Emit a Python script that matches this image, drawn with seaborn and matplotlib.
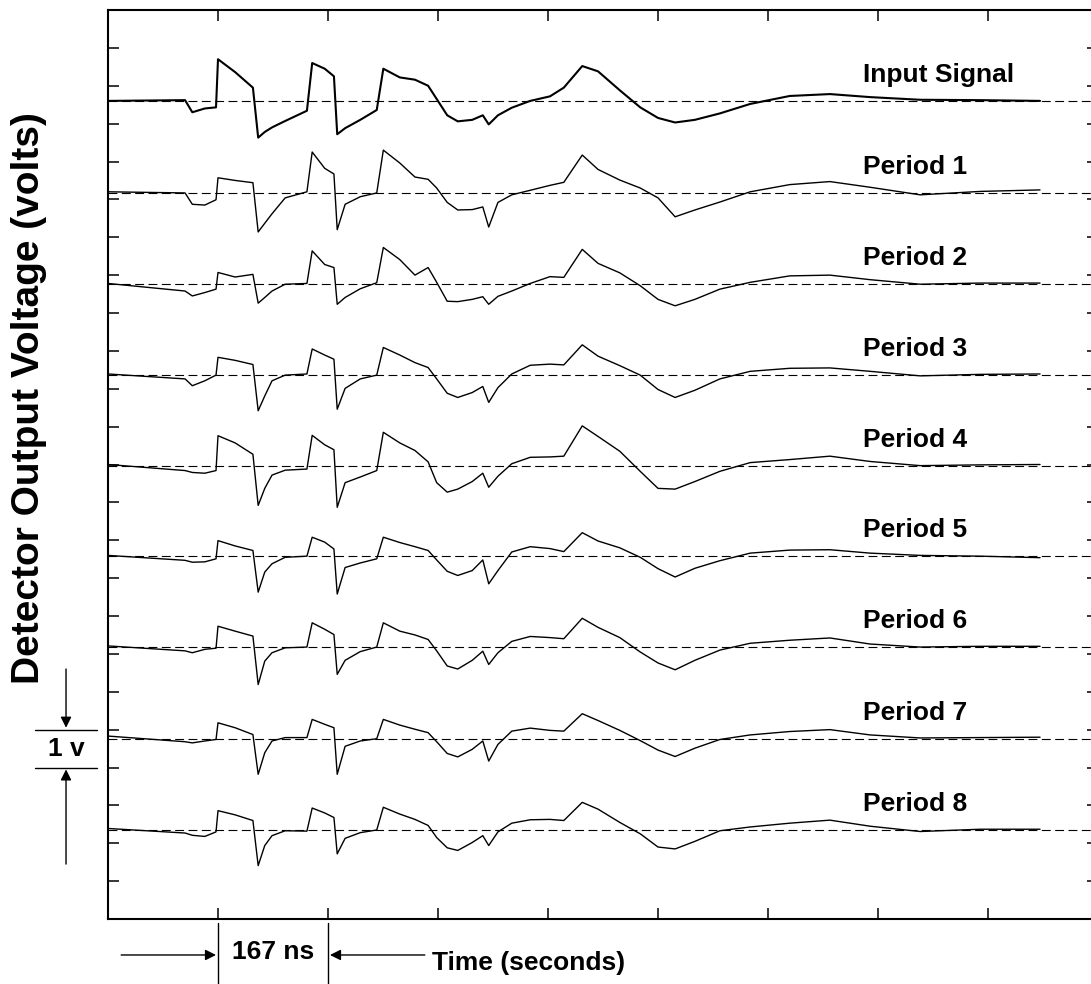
"""Detector output traces for the input signal and eight periods."""

import matplotlib

matplotlib.use("Agg")

import matplotlib.pyplot as plt
import matplotlib.transforms as mtransforms
import numpy as np
import pandas as pd
import seaborn as sns

# sample times in ns (shared by every trace)
time_ns = [0, 117, 128, 147, 164, 167, 193, 220, 228, 238, 249, 269, 302, 310,
           329, 343, 348, 360, 383, 408, 418, 443, 466, 486, 499, 515, 531, 553,
           569, 578, 592, 613, 641, 671, 692, 720, 744, 777, 808, 835, 861, 891,
           929, 975, 1035, 1096, 1157, 1233, 1324, 1415]

# voltage relative to each trace's baseline (V)
input_signal = [0, 0.02, -0.3, -0.2, -0.17, 1.1, 0.76, 0.35, -0.97, -0.82, -0.7,
                -0.53, -0.26, 1.0, 0.85, 0.65, -0.88, -0.72, -0.5, -0.24, 0.85,
                0.62, 0.56, 0.4, 0.05, -0.38, -0.54, -0.5, -0.38, -0.62, -0.38,
                -0.18, 0.0, 0.12, 0.35, 0.92, 0.78, 0.28, -0.17, -0.45, -0.57,
                -0.5, -0.33, -0.08, 0.13, 0.18, 0.1, 0.03, 0.02, 0.0]
period_1 = [0.03, 0.0, -0.3, -0.32, -0.18, 0.4, 0.33, 0.27, -1.03, -0.8, -0.55,
            -0.13, 0.03, 1.08, 0.65, 0.5, -0.97, -0.3, -0.1, 0.0, 1.13, 0.79,
            0.42, 0.36, 0.13, -0.25, -0.45, -0.44, -0.37, -0.9, -0.25, -0.05,
            0.07, 0.2, 0.28, 1.0, 0.62, 0.34, 0.13, -0.13, -0.63, -0.45, -0.24,
            0.03, 0.22, 0.3, 0.15, -0.05, 0.04, 0.08]
period_2 = [0.02, -0.18, -0.31, -0.22, -0.13, 0.31, 0.19, 0.26, -0.5, -0.35,
            -0.18, 0.0, 0.02, 0.88, 0.52, 0.44, -0.53, -0.35, -0.12, 0.04, 0.97,
            0.65, 0.24, 0.44, 0.05, -0.45, -0.46, -0.4, -0.33, -0.53, -0.32,
            -0.18, 0.02, 0.2, 0.18, 0.92, 0.55, 0.3, -0.04, -0.4, -0.57, -0.4,
            -0.13, 0.05, 0.22, 0.24, 0.12, 0.0, 0.03, 0.03]
period_3 = [0.03, -0.1, -0.28, -0.15, 0.0, 0.47, 0.39, 0.28, -0.94, -0.55, -0.15,
            0.0, 0.03, 0.69, 0.53, 0.42, -0.9, -0.35, -0.1, 0.0, 0.73, 0.53, 0.33,
            0.2, -0.1, -0.48, -0.59, -0.46, -0.3, -0.72, -0.33, 0.03, 0.26, 0.29,
            0.27, 0.8, 0.5, 0.25, 0.0, -0.38, -0.59, -0.4, -0.1, 0.1, 0.18, 0.19,
            0.1, -0.02, 0.02, 0.03]
period_4 = [0.03, -0.13, -0.18, -0.2, -0.13, 0.79, 0.6, 0.3, -1.05, -0.6, -0.25,
            -0.12, -0.09, 0.8, 0.55, 0.42, -1.1, -0.45, -0.3, -0.13, 0.88, 0.6,
            0.4, 0.1, -0.45, -0.7, -0.62, -0.42, -0.2, -0.57, -0.28, 0.05, 0.22,
            0.23, 0.25, 1.05, 0.77, 0.38, -0.15, -0.6, -0.62, -0.42, -0.15, 0.08,
            0.16, 0.25, 0.11, 0.0, 0.02, 0.03]
period_5 = [0.02, -0.11, -0.16, -0.15, -0.07, 0.41, 0.27, 0.15, -0.95, -0.42,
            -0.2, -0.03, 0.0, 0.5, 0.37, 0.19, -1.0, -0.3, -0.18, -0.07, 0.5,
            0.36, 0.25, 0.15, -0.1, -0.4, -0.51, -0.38, -0.1, -0.73, -0.38, 0.11,
            0.25, 0.2, 0.12, 0.62, 0.4, 0.22, -0.03, -0.33, -0.55, -0.32, -0.12,
            0.08, 0.16, 0.17, 0.08, 0.02, 0.0, -0.04]
period_6 = [0.03, -0.1, -0.15, -0.06, -0.03, 0.55, 0.42, 0.29, -0.99, -0.37,
            -0.15, -0.02, 0.0, 0.64, 0.47, 0.33, -0.72, -0.35, -0.12, 0.0, 0.64,
            0.42, 0.32, 0.2, -0.1, -0.5, -0.58, -0.35, -0.11, -0.46, -0.15, 0.15,
            0.28, 0.25, 0.22, 0.76, 0.52, 0.25, -0.13, -0.42, -0.6, -0.35, -0.08,
            0.1, 0.18, 0.24, 0.08, 0.0, 0.02, 0.02]
period_7 = [0.07, -0.08, -0.11, -0.06, -0.02, 0.42, 0.29, 0.11, -0.94, -0.37,
            -0.06, 0.03, 0.03, 0.51, 0.38, 0.29, -0.94, -0.2, -0.06, 0.0, 0.51,
            0.36, 0.25, 0.16, -0.08, -0.39, -0.48, -0.28, -0.06, -0.59, -0.15,
            0.2, 0.28, 0.22, 0.2, 0.66, 0.48, 0.22, -0.05, -0.3, -0.47, -0.25,
            -0.02, 0.1, 0.19, 0.24, 0.1, 0.02, 0.03, 0.04]
period_8 = [0.04, -0.08, -0.14, -0.17, -0.05, 0.51, 0.4, 0.25, -0.94, -0.41,
            -0.15, -0.02, -0.03, 0.58, 0.45, 0.33, -0.63, -0.22, -0.07, 0.0, 0.6,
            0.42, 0.28, 0.12, -0.2, -0.47, -0.54, -0.33, -0.15, -0.41, -0.05,
            0.18, 0.27, 0.28, 0.25, 0.73, 0.55, 0.2, -0.1, -0.45, -0.5, -0.3,
            -0.02, 0.08, 0.18, 0.26, 0.1, -0.04, 0.02, 0.02]

trace_names = ["Input Signal", "Period 1", "Period 2", "Period 3", "Period 4",
               "Period 5", "Period 6", "Period 7", "Period 8"]
trace_values = [input_signal, period_1, period_2, period_3, period_4,
                period_5, period_6, period_7, period_8]
# baseline of each trace on the volts axis
baselines = [21.6, 19.17, 16.76, 14.36, 11.97, 9.58, 7.18, 4.76, 2.35]

TICK_NS = 167
FONT = ["Liberation Sans", "DejaVu Sans"]

sns.set_theme(style="white")
plt.rcParams["font.family"] = FONT
plt.rcParams["text.color"] = "black"

fig = plt.figure(figsize=(10.91, 9.84), dpi=100)
ax = fig.add_axes([108 / 1091, 65 / 984, 990 / 1091, 909 / 984])

for name, values, base in zip(trace_names, trace_values, baselines):
    df = pd.DataFrame({"time": time_ns, "volts": np.array(values) + base})
    sns.lineplot(
        data=df, x="time", y="volts", ax=ax, color="black",
        lw=1.5 if name == "Input Signal" else 1.0,
        estimator=None, sort=False,
    )
    ax.axhline(base, color="black", lw=0.8, ls=(0, (8, 4)), zorder=1)
    ax.text(1146, base + 0.5, name, fontsize=19, fontweight="bold",
            ha="left", va="baseline")

ax.set_xlim(0, 9 * TICK_NS)
ax.set_ylim(0, 24)
ax.set_xticks(np.arange(10) * TICK_NS)
ax.set_yticks(np.arange(25))
ax.tick_params(direction="in", length=8, width=1.1, color="black",
               top=True, right=True, bottom=True, left=True,
               labelbottom=False, labelleft=False)
ax.set_xlabel("")
ax.set_ylabel("")
for spine in ax.spines.values():
    spine.set_color("black")
    spine.set_linewidth(1.5)

# "1 v" scale marker on the left
left = mtransforms.blended_transform_factory(ax.transAxes, ax.transData)
for yv in (4, 5):
    ax.plot([-0.0737, -0.0111], [yv, yv], transform=left, color="black",
            lw=1.0, clip_on=False)
arrow = dict(arrowstyle="-|>", color="black", lw=1.0, mutation_scale=16,
             shrinkA=0, shrinkB=0)
ax.annotate("", xy=(-0.0424, 5.05), xytext=(-0.0424, 6.6), xycoords=left,
            textcoords=left, arrowprops=arrow, annotation_clip=False)
ax.annotate("", xy=(-0.0424, 3.95), xytext=(-0.0424, 1.45), xycoords=left,
            textcoords=left, arrowprops=arrow, annotation_clip=False)
ax.text(-0.0424, 4.5, "1 v", transform=left, fontsize=19, fontweight="bold",
        ha="center", va="center", clip_on=False)

# 167 ns marker under the axis
for xv in (TICK_NS, 2 * TICK_NS):
    ax.plot([xv, xv], [-0.1, -1.9], color="black", lw=1.0, clip_on=False)
ax.annotate("", xy=(TICK_NS - 3, -0.95), xytext=(20, -0.95), arrowprops=arrow,
            annotation_clip=False)
ax.annotate("", xy=(2 * TICK_NS + 3, -0.95), xytext=(481, -0.95),
            arrowprops=arrow, annotation_clip=False)
ax.text(1.5 * TICK_NS, -0.87, "167 ns", fontsize=19, fontweight="bold",
        ha="center", va="center", clip_on=False)
ax.text(492, -1.16, "Time (seconds)", fontsize=19, fontweight="bold",
        ha="left", va="center", clip_on=False)

fig.text(29 / 1091, 0.595, "Detector Output Voltage (volts)", rotation=90,
         fontsize=28, fontweight="bold", ha="center", va="center")

fig.savefig("out.png", dpi=100, facecolor="white")
plt.close(fig)
